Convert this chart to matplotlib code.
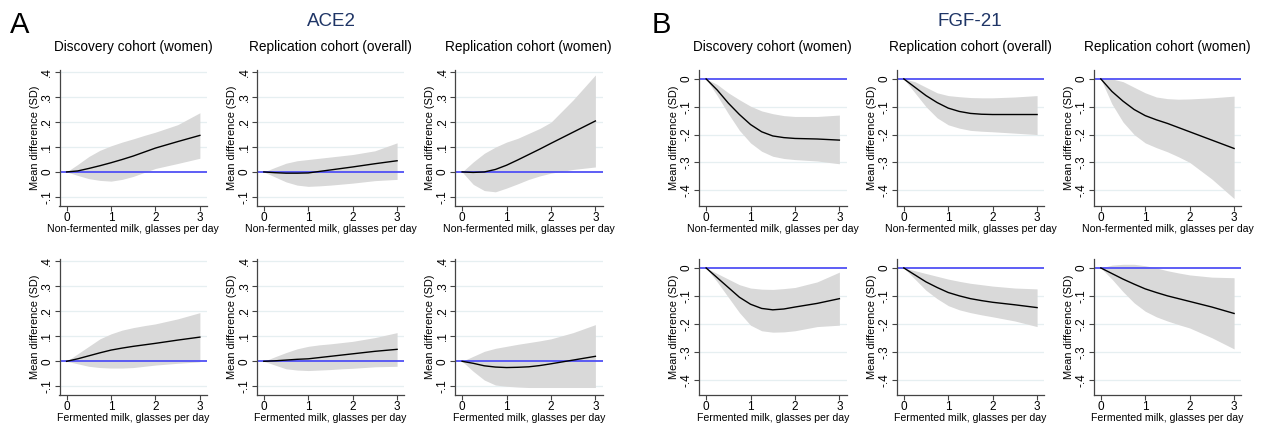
import matplotlib
matplotlib.use('Agg')
import matplotlib.pyplot as plt

plt.rcParams['font.family'] = ['Liberation Sans', 'DejaVu Sans']

# glasses per day at which the curves were read
x_glasses = [0, 0.25, 0.5, 0.75, 1, 1.25, 1.5, 1.75, 2, 2.5, 3]

cohorts = ['Discovery cohort (women)', 'Replication cohort (overall)', 'Replication cohort (women)']
milk_labels = ['Non-fermented milk, glasses per day', 'Fermented milk, glasses per day']

# ACE2, non-fermented milk
ace2_nf_disc = [0, 0.004, 0.014, 0.025, 0.037, 0.050, 0.064, 0.080, 0.096, 0.122, 0.147]
ace2_nf_disc_lo = [0, -0.014, -0.027, -0.034, -0.037, -0.030, -0.018, -0.002, 0.014, 0.034, 0.055]
ace2_nf_disc_hi = [0, 0.030, 0.062, 0.087, 0.105, 0.120, 0.133, 0.147, 0.160, 0.190, 0.238]
ace2_nf_all = [0, -0.003, -0.005, -0.005, -0.004, 0.002, 0.008, 0.014, 0.020, 0.033, 0.045]
ace2_nf_all_lo = [0, -0.020, -0.040, -0.053, -0.058, -0.056, -0.053, -0.049, -0.045, -0.035, -0.030]
ace2_nf_all_hi = [0, 0.018, 0.035, 0.045, 0.050, 0.055, 0.060, 0.065, 0.070, 0.085, 0.117]
ace2_nf_wom = [0, -0.002, 0.000, 0.010, 0.027, 0.048, 0.070, 0.092, 0.115, 0.160, 0.205]
ace2_nf_wom_lo = [0, -0.050, -0.075, -0.080, -0.065, -0.048, -0.030, -0.016, -0.005, 0.010, 0.020]
ace2_nf_wom_hi = [0, 0.040, 0.075, 0.100, 0.120, 0.135, 0.155, 0.175, 0.200, 0.290, 0.390]

# ACE2, fermented milk
ace2_f_disc = [0, 0.010, 0.022, 0.034, 0.045, 0.053, 0.060, 0.066, 0.072, 0.085, 0.097]
ace2_f_disc_lo = [0, -0.010, -0.020, -0.025, -0.027, -0.027, -0.025, -0.020, -0.015, -0.008, -0.002]
ace2_f_disc_hi = [0, 0.030, 0.060, 0.090, 0.110, 0.125, 0.135, 0.143, 0.150, 0.170, 0.195]
ace2_f_all = [0, 0.002, 0.005, 0.008, 0.010, 0.015, 0.020, 0.025, 0.030, 0.040, 0.048]
ace2_f_all_lo = [0, -0.015, -0.030, -0.035, -0.037, -0.035, -0.033, -0.030, -0.028, -0.022, -0.020]
ace2_f_all_hi = [0, 0.018, 0.035, 0.050, 0.060, 0.066, 0.070, 0.075, 0.080, 0.095, 0.115]
ace2_f_wom = [0, -0.008, -0.018, -0.023, -0.025, -0.024, -0.022, -0.017, -0.010, 0.005, 0.020]
ace2_f_wom_lo = [0, -0.040, -0.075, -0.095, -0.100, -0.103, -0.105, -0.105, -0.105, -0.105, -0.105]
ace2_f_wom_hi = [0, 0.020, 0.040, 0.052, 0.060, 0.068, 0.075, 0.082, 0.090, 0.115, 0.147]

# FGF-21, non-fermented milk
fgf_nf_disc = [0, -0.040, -0.087, -0.128, -0.164, -0.190, -0.205, -0.211, -0.214, -0.216, -0.220]
fgf_nf_disc_lo = [0, -0.060, -0.125, -0.185, -0.230, -0.260, -0.278, -0.286, -0.290, -0.295, -0.305]
fgf_nf_disc_hi = [0, -0.020, -0.050, -0.075, -0.098, -0.115, -0.125, -0.132, -0.135, -0.135, -0.130]
fgf_nf_all = [0, -0.030, -0.060, -0.085, -0.105, -0.117, -0.124, -0.127, -0.128, -0.128, -0.128]
fgf_nf_all_lo = [0, -0.050, -0.100, -0.140, -0.165, -0.177, -0.185, -0.188, -0.190, -0.195, -0.200]
fgf_nf_all_hi = [0, -0.010, -0.030, -0.050, -0.060, -0.064, -0.067, -0.068, -0.068, -0.065, -0.060]
fgf_nf_wom = [0, -0.045, -0.080, -0.110, -0.132, -0.147, -0.160, -0.175, -0.190, -0.220, -0.250]
fgf_nf_wom_lo = [0, -0.090, -0.155, -0.200, -0.230, -0.247, -0.262, -0.280, -0.300, -0.360, -0.430]
fgf_nf_wom_hi = [0, 0.000, -0.010, -0.030, -0.050, -0.065, -0.071, -0.073, -0.072, -0.068, -0.062]

# FGF-21, fermented milk
fgf_f_disc = [0, -0.035, -0.070, -0.105, -0.130, -0.145, -0.150, -0.147, -0.140, -0.127, -0.110]
fgf_f_disc_lo = [0, -0.050, -0.105, -0.160, -0.205, -0.225, -0.230, -0.229, -0.225, -0.210, -0.205]
fgf_f_disc_hi = [0, -0.020, -0.040, -0.060, -0.072, -0.076, -0.077, -0.074, -0.070, -0.050, -0.015]
fgf_f_all = [0, -0.025, -0.050, -0.070, -0.088, -0.100, -0.110, -0.117, -0.123, -0.132, -0.142]
fgf_f_all_lo = [0, -0.040, -0.080, -0.110, -0.135, -0.150, -0.160, -0.168, -0.175, -0.190, -0.210]
fgf_f_all_hi = [0, -0.010, -0.020, -0.030, -0.040, -0.048, -0.055, -0.060, -0.065, -0.072, -0.075]
fgf_f_wom = [0, -0.020, -0.040, -0.058, -0.075, -0.088, -0.100, -0.110, -0.120, -0.140, -0.163]
fgf_f_wom_lo = [0, -0.040, -0.085, -0.125, -0.155, -0.175, -0.190, -0.203, -0.215, -0.250, -0.290]
fgf_f_wom_hi = [0, 0.010, 0.013, 0.013, 0.008, 0.000, -0.010, -0.018, -0.025, -0.033, -0.035]

ace2_ticks = [-0.1, 0, 0.1, 0.2, 0.3, 0.4]
ace2_ticklabels = ['-.1', '0', '.1', '.2', '.3', '.4']
fgf_ticks = [-0.4, -0.3, -0.2, -0.1, 0]
fgf_ticklabels = ['-.4', '-.3', '-.2', '-.1', '0']


def draw_panel(ax, est, lo, hi, yticks, yticklabels, ylim, xlabel):
    for t in yticks:
        if t != 0:
            ax.axhline(t, color='#e6eff1', lw=0.9, zorder=0)
    ax.fill_between(x_glasses, lo, hi, color='#d9d9d9', lw=0, zorder=1)
    ax.axhline(0, color='#5050f5', lw=1.3, zorder=2)
    ax.plot(x_glasses, est, color='black', lw=1.0, zorder=3)
    ax.set_xlim(-0.16, 3.16)
    ax.set_ylim(*ylim)
    ax.set_xticks([0, 1, 2, 3])
    ax.set_xticklabels(['0', '1', '2', '3'], fontsize=8.5)
    ax.set_yticks(yticks)
    ax.set_yticklabels(yticklabels, fontsize=8.5, rotation=90, va='center')
    ax.tick_params(direction='out', length=3.5, width=0.8, color='#444444', pad=1)
    for side in ['top', 'right']:
        ax.spines[side].set_visible(False)
    for side in ['left', 'bottom']:
        ax.spines[side].set_color('#444444')
        ax.spines[side].set_linewidth(0.9)
    ax.set_ylabel('Mean difference (SD)', fontsize=7.9, labelpad=1)
    ax.set_xlabel(xlabel, fontsize=7.6, labelpad=0)


def main():
    W, H = 1262, 425
    fig = plt.figure(figsize=(W / 100, H / 100), dpi=100)

    ace2_rows = [
        [(ace2_nf_disc, ace2_nf_disc_lo, ace2_nf_disc_hi),
         (ace2_nf_all, ace2_nf_all_lo, ace2_nf_all_hi),
         (ace2_nf_wom, ace2_nf_wom_lo, ace2_nf_wom_hi)],
        [(ace2_f_disc, ace2_f_disc_lo, ace2_f_disc_hi),
         (ace2_f_all, ace2_f_all_lo, ace2_f_all_hi),
         (ace2_f_wom, ace2_f_wom_lo, ace2_f_wom_hi)],
    ]
    fgf_rows = [
        [(fgf_nf_disc, fgf_nf_disc_lo, fgf_nf_disc_hi),
         (fgf_nf_all, fgf_nf_all_lo, fgf_nf_all_hi),
         (fgf_nf_wom, fgf_nf_wom_lo, fgf_nf_wom_hi)],
        [(fgf_f_disc, fgf_f_disc_lo, fgf_f_disc_hi),
         (fgf_f_all, fgf_f_all_lo, fgf_f_all_hi),
         (fgf_f_wom, fgf_f_wom_lo, fgf_f_wom_hi)],
    ]

    # pixel boxes of the axes (left edges per column, top/bottom per row)
    a_lefts = [59.5, 256.7, 455]
    b_lefts = [699, 896.7, 1093.7]
    ax_w = 147.5
    rows_tb = [(70, 205.5), (259, 395)]

    for block, lefts, ticks, labels, ylim in [
            (ace2_rows, a_lefts, ace2_ticks, ace2_ticklabels, (-0.135, 0.41)),
            (fgf_rows, b_lefts, fgf_ticks, fgf_ticklabels, (-0.455, 0.032))]:
        for r, (top, bot) in enumerate(rows_tb):
            for c, left in enumerate(lefts):
                ax = fig.add_axes([left / W, 1 - bot / H, ax_w / W, (bot - top) / H])
                est, lo, hi = block[r][c]
                draw_panel(ax, est, lo, hi, ticks, labels, ylim, milk_labels[r])
                if r == 0:
                    ax.set_title(cohorts[c], fontsize=9.8, pad=14)

    fig.text(10 / W, 1 - 25 / H, 'A', fontsize=21, va='center', ha='left')
    fig.text(652 / W, 1 - 25 / H, 'B', fontsize=21, va='center', ha='left')
    fig.text(331 / W, 1 - 21 / H, 'ACE2', fontsize=13.5, color='#1f3566', ha='center', va='center')
    fig.text(970 / W, 1 - 21 / H, 'FGF-21', fontsize=13.5, color='#1f3566', ha='center', va='center')

    fig.savefig('out.png', dpi=100)


if __name__ == '__main__':
    main()
